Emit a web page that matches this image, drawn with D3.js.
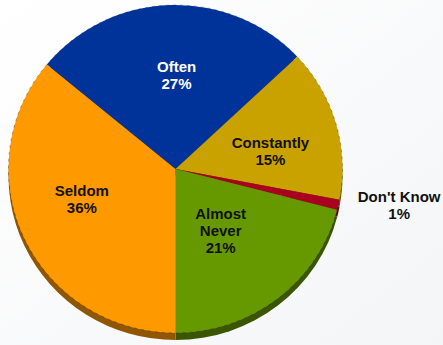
<!DOCTYPE html>
<html>
<head>
<meta charset="utf-8">
<script src="https://cdn.jsdelivr.net/npm/d3@7"></script>
<style>
  html, body { margin: 0; padding: 0; background: #ffffff; }
  svg { display: block; }
  text { font-family: "Liberation Sans", Arial, sans-serif; font-weight: bold; font-size: 15px; }
</style>
</head>
<body>
<svg id="chart" width="443" height="345"></svg>
<script>
// Survey answers, in clockwise order starting from the top-left slice
const categories = ["Often", "Constantly", "Don't Know", "Almost Never", "Seldom"];
const values = [27, 15, 1, 21, 36];
const labelLines = [["Often", "27%"], ["Constantly", "15%"], ["Don't Know", "1%"], ["Almost", "Never", "21%"], ["Seldom", "36%"]];
const colors = ["#003399", "#c9a200", "#a8001e", "#669900", "#ff9900"];
const labelColors = ["#ffffff", "#111111", "#111111", "#111111", "#111111"];

// Layout
const W = 443, H = 345;
const cx = 175.5, cy = 169;
const rx = 167, ry = 164;   // slightly flattened (tilted) pie
const depth = 7;            // visible thickness of the pie's side wall
const startDeg = -50.4;
const lineH = 17;
// label placement: radius as a fraction of rx, plus small nudges per slice
const labelRadius = [0.56, 0.57, 1.36, 0.5, 0.6];
const labelNudge = [[4, -2], [3.5, 8.3], [2, -12.4], [-6, -2.8], [-3, -11.4]];

const svg = d3.select("#chart");

// soft off-white backdrop
const defs = svg.append("defs");
const bg = defs.append("linearGradient").attr("id", "bg")
  .attr("x1", "0").attr("y1", "0").attr("x2", "1").attr("y2", "1");
bg.append("stop").attr("offset", "0").attr("stop-color", "#ffffff");
bg.append("stop").attr("offset", "1").attr("stop-color", "#f4f5f7");
svg.append("rect").attr("width", W).attr("height", H).attr("fill", "url(#bg)");

const pie = d3.pie()
  .sort(null)
  .value(d => d)
  .startAngle(startDeg * Math.PI / 180)
  .endAngle(startDeg * Math.PI / 180 + 2 * Math.PI);
const arcs = pie(values);
const arc = d3.arc().innerRadius(0).outerRadius(rx);

const sy = ry / rx;

// side wall: darker copy of the pie dropped by the wall depth
const sideFace = svg.append("g")
  .attr("transform", `translate(${cx},${cy + depth}) scale(1,${sy})`);
sideFace.selectAll("path").data(arcs).join("path")
  .attr("d", arc)
  .attr("fill", (d, i) => d3.color(colors[i]).darker(1.6));

// top face
const topFace = svg.append("g")
  .attr("transform", `translate(${cx},${cy}) scale(1,${sy})`);
topFace.selectAll("path").data(arcs).join("path")
  .attr("d", arc)
  .attr("fill", (d, i) => colors[i]);

// faint dashed rim
topFace.append("ellipse")
  .attr("rx", rx).attr("ry", rx)
  .attr("fill", "none")
  .attr("stroke", "#222")
  .attr("stroke-opacity", 0.45)
  .attr("stroke-width", 0.8)
  .attr("stroke-dasharray", "3,4");

// labels
const labels = svg.append("g");
arcs.forEach((d, i) => {
  const mid = (d.startAngle + d.endAngle) / 2;
  const r = rx * labelRadius[i];
  const x = cx + r * Math.sin(mid) + labelNudge[i][0];
  const y = cy - r * Math.cos(mid) * sy + labelNudge[i][1];
  const lines = labelLines[i];
  const t = labels.append("text")
    .attr("text-anchor", "middle")
    .attr("fill", labelColors[i]);
  const y0 = y - (lines.length - 1) * lineH / 2 + 5;
  lines.forEach((s, k) => {
    t.append("tspan").attr("x", x).attr("y", y0 + k * lineH).text(s);
  });
});
</script>
</body>
</html>
